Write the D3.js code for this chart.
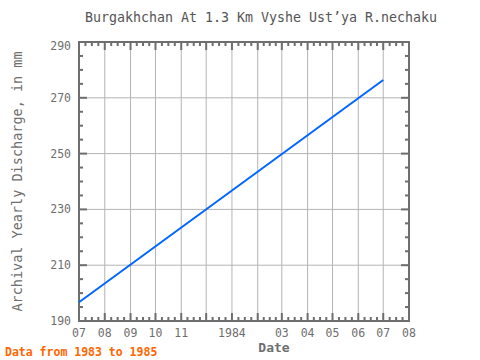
<!DOCTYPE html>
<html>
<head>
<meta charset="utf-8">
<script src="https://cdn.jsdelivr.net/npm/d3@7"></script>
<style>
  body { margin: 0; background: #fff; }
  text { font-family: "DejaVu Sans Mono", monospace; }
</style>
</head>
<body>
<div id="canvas"></div>
<script>
"use strict"

/* data */
let dates = ["1983-07-01", "1984-07-01"];
let values = [196.7, 276.4];
let monthLabels = ["07", "08", "09", "10", "11", "", "1984", "", "03", "04", "05", "06", "07", "08"];
let yTicks = [190, 210, 230, 250, 270, 290];

let parse = d3.timeParse("%Y-%m-%d");
let points = dates.map((d, i) => ({ date: parse(d), value: values[i] }));

let drawing = d3.select("#canvas")
    .append("svg")
    .attr("width", 480)
    .attr("height", 360);

let plotL = 79, plotR = 409, plotT = 42, plotB = 321;
let axisColor = "#6e6e6e";
let gridColor = "#b4b4b4";

let x = d3.scaleTime()
    .domain([new Date(1983, 6, 1), new Date(1984, 7, 1)])
    .range([plotL, plotR]);
let y = d3.scaleLinear()
    .domain([190, 290])
    .range([plotB, plotT]);

let months = d3.timeMonth.range(new Date(1983, 6, 1), new Date(1984, 7, 2));
// minor ticks: 4 per month
let minor = [];
months.slice(0, -1).forEach((m, i) => {
  let a = +m, b = +months[i + 1];
  for (let k = 1; k < 4; k++) minor.push(new Date(a + (b - a) * k / 4));
});
let yMinor = d3.range(190, 291, 5).filter(v => (v - 190) % 20 !== 0);

/* grid */
drawing.append("g").selectAll("line").data(months.slice(1, -1)).join("line")
  .attr("x1", d => x(d)).attr("x2", d => x(d))
  .attr("y1", plotT).attr("y2", plotB)
  .attr("stroke", gridColor).attr("stroke-width", 1);
drawing.append("g").selectAll("line").data(yTicks.slice(1, -1)).join("line")
  .attr("x1", plotL).attr("x2", plotR)
  .attr("y1", d => y(d)).attr("y2", d => y(d))
  .attr("stroke", gridColor).attr("stroke-width", 1);

/* tick marks */
let ticks = drawing.append("g").attr("stroke", axisColor).attr("stroke-width", 2);
function vTicks(data, y0, len) {
  ticks.append("g").selectAll("line").data(data).join("line")
    .attr("x1", d => x(d)).attr("x2", d => x(d))
    .attr("y1", y0).attr("y2", y0 + len);
}
function hTicks(data, x0, len) {
  ticks.append("g").selectAll("line").data(data).join("line")
    .attr("x1", x0).attr("x2", x0 + len)
    .attr("y1", d => y(d)).attr("y2", d => y(d));
}
vTicks(months, plotB, -8);
vTicks(minor, plotB, -4);
vTicks(months, plotT, 8);
vTicks(minor, plotT, 4);
hTicks(yTicks, plotL, 8);
hTicks(yMinor, plotL, 4);
hTicks(yTicks, plotR, -8);
hTicks(yMinor, plotR, -4);

/* frame */
drawing.append("rect")
  .attr("x", plotL).attr("y", plotT)
  .attr("width", plotR - plotL).attr("height", plotB - plotT)
  .attr("fill", "none").attr("stroke", axisColor).attr("stroke-width", 2);

/* data line */
let line = d3.line().x(d => x(d.date)).y(d => y(d.value));
drawing.append("path")
  .datum(points)
  .attr("d", line)
  .attr("fill", "none")
  .attr("stroke", "#0066ff")
  .attr("stroke-width", 2);

/* tick labels */
drawing.append("g").selectAll("text").data(months).join("text")
  .attr("x", d => x(d)).attr("y", plotB + 16)
  .attr("text-anchor", "middle")
  .attr("font-size", 11.5).attr("fill", axisColor)
  .text((d, i) => monthLabels[i]);
drawing.append("g").selectAll("text").data(yTicks).join("text")
  .attr("x", plotL - 8).attr("y", d => Math.max(y(d) + 4, plotT + 8))
  .attr("text-anchor", "end")
  .attr("font-size", 11.5).attr("fill", axisColor)
  .text(d => d);

/* titles */
drawing.append("text")
  .attr("x", 261).attr("y", 22)
  .attr("text-anchor", "middle")
  .attr("font-size", 13.3).attr("fill", "#555")
  .text("Burgakhchan At 1.3 Km Vyshe Ust\u2019ya R.nechaku");
drawing.append("text")
  .attr("x", 274).attr("y", 352)
  .attr("text-anchor", "middle")
  .attr("font-size", 13).attr("font-weight", "bold").attr("fill", axisColor)
  .text("Date");
drawing.append("text")
  .attr("transform", "translate(22," + ((plotT + plotB) / 2) + ") rotate(-90)")
  .attr("text-anchor", "middle")
  .attr("font-size", 13.5).attr("fill", axisColor)
  .text("Archival Yearly Discharge, in mm");
drawing.append("text")
  .attr("x", 5).attr("y", 356)
  .attr("font-size", 11.5).attr("font-weight", "bold").attr("fill", "#ff6600")
  .text("Data from 1983 to 1985");
</script>
</body>
</html>
